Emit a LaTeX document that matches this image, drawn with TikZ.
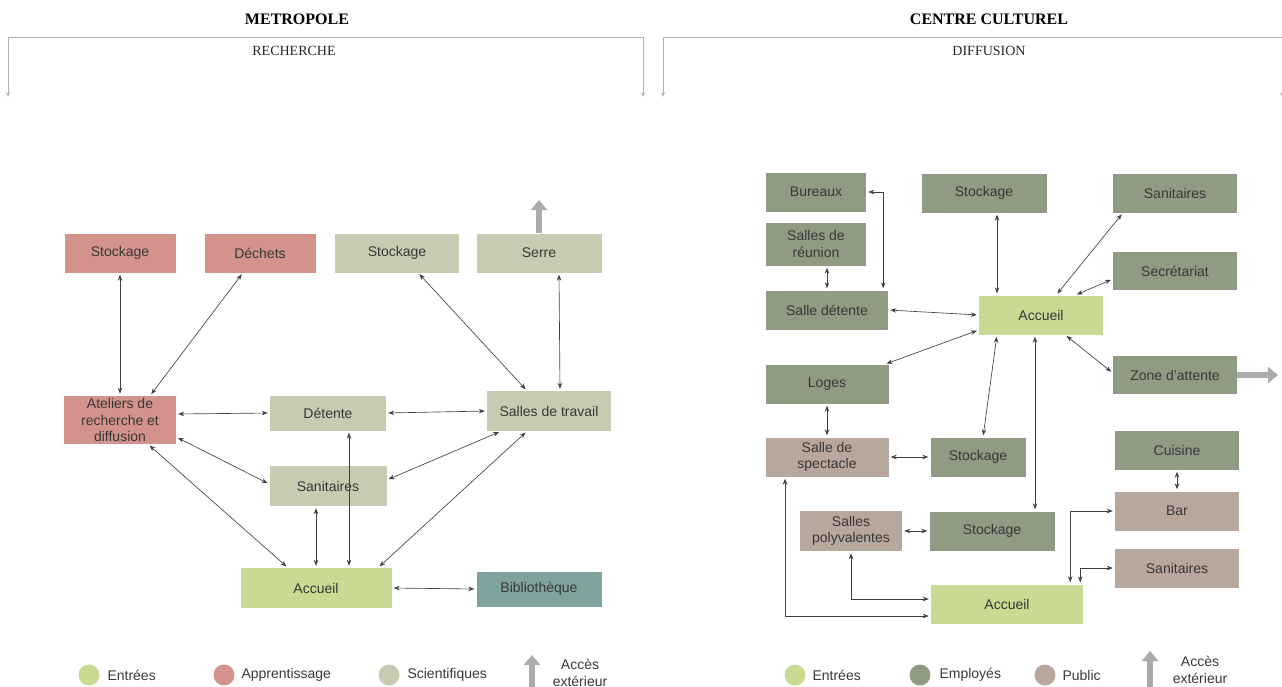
\documentclass[tikz,border=0pt]{standalone}
\usepackage{fontspec}
\setmainfont{Liberation Sans}
\newfontfamily\headfont{Liberation Serif}
\usetikzlibrary{arrows.meta}
\definecolor{entree}{HTML}{C9DA93}
\definecolor{apprent}{HTML}{D4928C}
\definecolor{scient}{HTML}{C9CAB2}
\definecolor{biblio}{HTML}{7FA39F}
\definecolor{employe}{HTML}{8F9B83}
\definecolor{public}{HTML}{B8A79D}
\begin{document}
\begin{tikzpicture}[x=1pt,y=-1pt,
    room/.style={fill=#1,inner sep=0pt,minimum width=124pt,minimum height=39pt,align=center,
        text=black!78,font=\fontsize{14}{16.5}\selectfont},
    link/.style={{Stealth[length=6pt,width=4.5pt]}-{Stealth[length=6pt,width=4.5pt]},
        draw=black!75,line width=0.65pt,shorten <=2pt,shorten >=2pt},
    exit/.style={-{Triangle[length=10pt,width=16pt]},line width=6.5pt,draw=black!33},
    bracket/.style={{Stealth[length=5pt,width=4pt]}-{Stealth[length=5pt,width=4pt]},
        draw=black!30,line width=0.8pt},
    heading/.style={font=\headfont\bfseries\fontsize{16}{18}\selectfont},
    subheading/.style={font=\headfont\fontsize{14}{16}\selectfont,text=black!85},
    swatch/.style={circle,fill=#1,inner sep=0pt,minimum size=21pt},
    keytext/.style={anchor=west,text=black!78,font=\fontsize{14}{16.5}\selectfont}]

    \useasboundingbox (0,0) rectangle (1282,686);

    \node[heading] (T1) at (297,19) {METROPOLE};
    \node[subheading] (T2) at (294,51) {RECHERCHE};
    \node[heading] (T3) at (989,19) {CENTRE CULTUREL};
    \node[subheading] (T4) at (989,51) {DIFFUSION};

    \coordinate (K1) at (8,97);
    \coordinate (K2) at (643,37);
    \coordinate (K3) at (643,97);
    \coordinate (K4) at (663,97);
    \coordinate (K5) at (1282,37);
    \coordinate (K6) at (1282,97);
    \draw[bracket] (K1) |- (K2) -- (K3);
    \draw[bracket] (K4) |- (K5) -- (K6);

    \node[room=apprent,minimum width=111pt] (M1) at (120,253) {Stockage};
    \node[room=apprent,minimum width=111pt] (M2) at (260,253) {Déchets};
    \node[room=scient] (M3) at (397,253) {Stockage};
    \node[room=scient,minimum width=125pt] (M4) at (539,253) {Serre};
    \node[room=apprent,minimum width=112pt,minimum height=48pt] (M5) at (120,420) {Ateliers de\\recherche et\\diffusion};
    \node[room=scient,minimum width=116pt,minimum height=35pt] (M6) at (328,413) {Détente};
    \node[room=scient,minimum height=40pt] (M7) at (549,411) {Salles de travail};
    \node[room=scient,minimum width=117pt,minimum height=40pt] (M8) at (328,486) {Sanitaires};
    \node[room=entree,minimum width=151pt,minimum height=40pt] (M9) at (316,588) {Accueil};
    \node[room=biblio,minimum width=125pt,minimum height=35pt] (M10) at (539,589) {Bibliothèque};

    \coordinate (X1) at (539,200);
    \draw[exit] (M4.north) -- (X1);

    \draw[link] (M1.south) -- (M5.north);
    \draw[link] ([xshift=-17pt]M2.south) -- ([xshift=30pt]M5.north);
    \draw[link] ([xshift=21pt]M3.south) -- ([xshift=-22pt]M7.north);
    \draw[link] ([xshift=20pt]M4.south) -- ([xshift=11pt]M7.north);
    \draw[link] ([yshift=6pt]M5.east) -- (M6.west);
    \draw[link] (M6.east) -- (M7.west);
    \draw[link] ([yshift=-17pt]M5.east) -- ([yshift=2pt]M8.west);
    \draw[link] ([xshift=28pt]M5.south) -- ([xshift=-28pt]M9.north);
    \draw[link] ([yshift=6pt]M8.east) -- ([xshift=-48pt]M7.south);
    \draw[link] ([xshift=-22pt]M7.south) -- ([xshift=62pt]M9.north);
    \draw[link] ([xshift=21pt]M6.south) -- ([xshift=33pt]M9.north);
    \draw[link] ([xshift=-12pt]M8.south) -- (M9.north);
    \draw[link] (M9.east) -- (M10.west);

    \node[room=employe,minimum width=100pt] (C1) at (816,192) {Bureaux};
    \node[room=employe,minimum width=125pt] (C2) at (984,193) {Stockage};
    \node[room=employe] (C3) at (1175,193) {Sanitaires};
    \node[room=employe,minimum width=100pt,minimum height=43pt] (C4) at (816,244) {Salles de\\réunion};
    \node[room=employe,minimum height=38pt] (C5) at (1175,271) {Secrétariat};
    \node[room=employe,minimum width=122pt] (C6) at (827,310) {Salle détente};
    \node[room=entree] (C7) at (1041,315) {Accueil};
    \node[room=employe,minimum width=123pt] (C8) at (827,384) {Loges};
    \node[room=employe,minimum height=38pt] (C9) at (1175,375) {Zone d'attente};
    \node[room=public,minimum width=123pt] (C10) at (827,457) {Salle de\\spectacle};
    \node[room=employe,minimum width=95pt] (C11) at (978,457) {Stockage};
    \node[room=employe] (C12) at (1177,450) {Cuisine};
    \node[room=public] (C13) at (1177,511) {Bar};
    \node[room=public,minimum width=102pt,minimum height=40pt] (C14) at (851,531) {Salles\\polyvalentes};
    \node[room=employe,minimum width=125pt] (C15) at (992,531) {Stockage};
    \node[room=public] (C16) at (1177,568) {Sanitaires};
    \node[room=entree,minimum width=152pt] (C17) at (1007,604) {Accueil};

    \coordinate (X2) at (1278,375);
    \draw[exit] (C9.east) -- (X2);

    \draw[link] (C1.east) -| ([xshift=-5pt]C6.north east);
    \draw[link] ([xshift=11pt]C4.south) -- (C6.north);
    \draw[link] (C6.east) -- (C7.west);
    \draw[link] ([xshift=13pt]C2.south) -- ([xshift=-44pt]C7.north);
    \draw[link] ([xshift=-52pt]C3.south) -- ([xshift=15pt]C7.north);
    \draw[link] ([yshift=-8pt]C5.west) -- ([xshift=34pt]C7.north);
    \draw[link] ([xshift=24pt]C7.south) -- ([yshift=2pt]C9.west);
    \draw[link] ([yshift=-15pt]C7.west) -- ([xshift=-4pt]C8.north east);
    \draw[link] ([xshift=-44pt]C7.south) -- ([xshift=5pt]C11.north);
    \draw[link] ([xshift=-6pt]C7.south) -- ([xshift=43pt]C15.north);
    \draw[link] (C8.south) -- (C10.north);
    \draw[link] (C10.east) -- (C11.west);
    \draw[link] (C14.east) -- (C15.west);
    \draw[link] (C12.south) -- (C13.north);
    \draw[link] (C13.west) -| ([xshift=-13pt]C17.north east);
    \draw[link] (C16.west) -| ([xshift=-3pt]C17.north east);
    \draw[link] (C14.south) |- ([yshift=5pt]C17.west);
    \draw[link] ([xshift=-42pt]C10.south) |- ([yshift=-12pt]C17.west);

    \node[swatch=entree] (L1) at (89,675) {};
    \node[keytext] (L1t) at (104,675) {Entrées};
    \node[swatch=apprent] (L2) at (224,675) {};
    \node[keytext] (L2t) at (238,675) {Apprentissage};
    \node[swatch=scient] (L3) at (389,675) {};
    \node[keytext] (L3t) at (404,675) {Scientifiques};
    \coordinate (L4a) at (532,690);
    \coordinate (L4b) at (532,655);
    \draw[exit] (L4a) -- (L4b);
    \node[keytext,anchor=center,align=center,font=\fontsize{14}{16.5}\selectfont] (L4t) at (580,673) {Accès\\extérieur};

    \node[swatch=entree] (R1) at (795,675) {};
    \node[keytext] (R1t) at (809,675) {Entrées};
    \node[swatch=employe] (R2) at (920,675) {};
    \node[keytext] (R2t) at (936,675) {Employés};
    \node[swatch=public] (R3) at (1045,675) {};
    \node[keytext] (R3t) at (1059,675) {Public};
    \coordinate (R4a) at (1150,690);
    \coordinate (R4b) at (1150,651);
    \draw[exit] (R4a) -- (R4b);
    \node[keytext,anchor=center,align=center,font=\fontsize{14}{16.5}\selectfont] (R4t) at (1200,670) {Accès\\extérieur};

\end{tikzpicture}
\end{document}
